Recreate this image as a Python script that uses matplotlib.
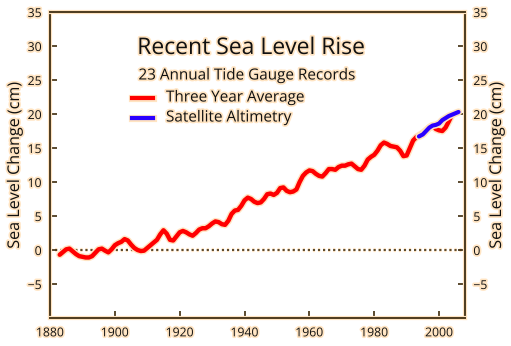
import matplotlib
matplotlib.use("Agg")
import matplotlib.pyplot as plt
import matplotlib.patheffects as pe

# Three-year average of 23 annual tide gauge records (cm)
tide_years = list(range(1883, 2005))
tide_values = [
    -0.7, -0.3, 0.1, 0.2, -0.2, -0.6, -0.9, -1.0, -1.1, -1.1,
    -0.9, -0.4, 0.1, 0.2, -0.1, -0.35, 0.1, 0.7, 1.0, 1.2,
    1.6, 1.4, 0.8, 0.3, 0.0, -0.15, -0.1, 0.3, 0.7, 1.1,
    1.5, 2.3, 2.9, 2.4, 1.5, 1.4, 2.0, 2.6, 2.8, 2.6,
    2.3, 2.1, 2.5, 3.0, 3.2, 3.2, 3.5, 3.9, 4.2, 4.1,
    3.8, 3.7, 4.3, 5.3, 5.8, 5.9, 6.5, 7.3, 7.7, 7.5,
    7.1, 6.9, 7.0, 7.5, 8.2, 8.3, 8.1, 8.4, 9.1, 9.2,
    8.7, 8.5, 8.6, 8.9, 10.0, 10.9, 11.4, 11.7, 11.6, 11.2,
    10.9, 10.8, 11.3, 11.9, 11.9, 11.8, 12.2, 12.4, 12.4, 12.6,
    12.7, 12.3, 11.9, 11.8, 12.4, 13.3, 13.7, 14.0, 14.6, 15.4,
    15.8, 15.6, 15.3, 15.2, 15.1, 14.6, 13.8, 13.9, 15.0, 16.1,
    16.6, 16.9, 17.2, 17.6, 18.0, 18.3, 17.8, 17.6, 17.5, 18.0,
    18.9, 19.9,
]

# Satellite altimetry (cm)
sat_years = [1993.8, 1995, 1996, 1997, 1998, 1999, 2000, 2001, 2002, 2003, 2004, 2005, 2006]
sat_values = [16.7, 17.0, 17.5, 18.0, 18.3, 18.4, 18.6, 19.1, 19.4, 19.7, 19.9, 20.1, 20.3]

x_ticks = [1880, 1900, 1920, 1940, 1960, 1980, 2000]
y_ticks = [-5, 0, 5, 10, 15, 20, 25, 30, 35]

title = "Recent Sea Level Rise"
subtitle = "23 Annual Tide Gauge Records"
tide_label = "Three Year Average"
sat_label = "Satellite Altimetry"
y_label = "Sea Level Change (cm)"

FONT = ["Open Sans", "DejaVu Sans"]
GLOW = "#FFE4C2"
FRAME = "#4d3b1f"
INK = "#111111"
text_glow = [pe.withStroke(linewidth=2.5, foreground=GLOW)]
line_glow = [pe.Stroke(linewidth=5.2, foreground=GLOW), pe.Normal()]

plt.rcParams["font.family"] = FONT

fig = plt.figure(figsize=(5.11, 3.46), dpi=100)
W, H = 511, 346
left, right, top, bottom = 50, 465, 12, 318
ax = fig.add_axes([left / W, 1 - bottom / H, (right - left) / W, (bottom - top) / H])

ax.set_xlim(1880, 2008)
ax.set_ylim(-10, 35)

# zero reference
ax.axhline(0, color=FRAME, lw=1.3, ls=(0, (1.2, 1.6)), zorder=1,
           path_effects=[pe.Stroke(linewidth=3, foreground=GLOW), pe.Normal()])

ax.plot(tide_years, tide_values, color="#ff0000", lw=3.2, solid_capstyle="round",
        solid_joinstyle="round", path_effects=line_glow, zorder=3)
ax.plot(sat_years, sat_values, color="#2a00ff", lw=3.0, solid_capstyle="round",
        solid_joinstyle="round", path_effects=line_glow, zorder=4)

for s in ax.spines.values():
    s.set_color(FRAME)
    s.set_linewidth(1.4)
    s.set_path_effects([pe.Stroke(linewidth=3, foreground=GLOW), pe.Normal()])

ax.set_xticks(x_ticks)
ax.set_yticks(y_ticks)
ax.tick_params(axis="both", direction="in", color=FRAME, width=1.3, length=5,
               labelsize=8.8, labelcolor=INK)
ax.tick_params(axis="y", left=True, right=True, labelleft=True, labelright=True, pad=6)
ax.tick_params(axis="x", pad=6)
for t in ax.xaxis.get_major_ticks() + ax.yaxis.get_major_ticks():
    t.label1.set_path_effects(text_glow)
    t.label2.set_path_effects(text_glow)


def fx(px):
    return px / W


def fy(py):
    return 1 - py / H


# axis titles on both sides
for xc in (15, 497):
    fig.text(fx(xc), fy(165), y_label, fontsize=11.6, rotation=90, ha="center",
             va="center", color=INK, path_effects=text_glow)

# title block and legend
fig.text(fx(251), fy(48), title, fontsize=16.5, ha="center", va="center",
         color=INK, path_effects=text_glow)
fig.text(fx(247), fy(76), subtitle, fontsize=11, ha="center", va="center",
         color=INK, path_effects=text_glow)

for yk, color, label in [(98, "#ff0000", tide_label), (118, "#2a00ff", sat_label)]:
    fig.add_artist(plt.Line2D([fx(132), fx(153)], [fy(yk), fy(yk)], color=color, lw=3,
                              path_effects=line_glow, transform=fig.transFigure))
    fig.text(fx(166), fy(yk), label, fontsize=11, ha="left", va="center",
             color=INK, path_effects=text_glow)

fig.savefig("out.png", dpi=100, facecolor="white")
